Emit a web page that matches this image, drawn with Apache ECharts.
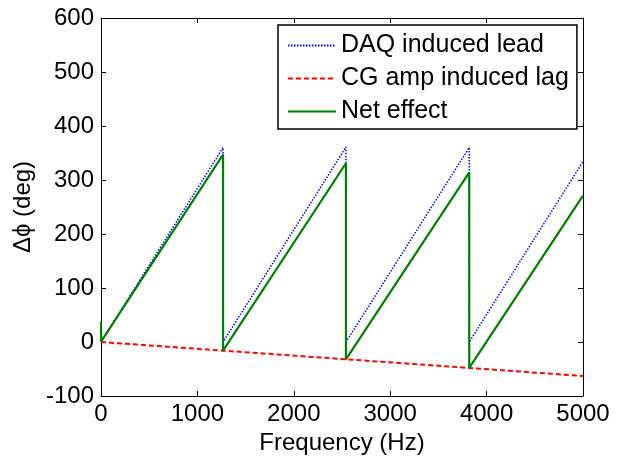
<!DOCTYPE html>
<html>
<head>
<meta charset="utf-8">
<script src="https://cdn.jsdelivr.net/npm/echarts@6/dist/echarts.min.js"></script>
<style>
html,body{margin:0;padding:0;background:#fff;}
#chart{width:626px;height:461px;}
</style>
</head>
<body>
<div id="chart"></div>
<script>
// Frequency (Hz) / phase (deg) vertices
var daqFreq  = [0, 1266, 1266, 2541, 2541, 3820, 3820, 5000];
var daqPhase = [0, 360, 0, 361, 0, 360, 0, 334];

var cgFreq  = [0, 1266, 2541, 3820, 5000];
var cgPhase = [0, -16, -32, -48, -63];

var netFreq  = [0, 2, 1266, 1266, 2541, 2541, 3820, 3820, 5000];
var netPhase = [38, 1, 347, -16, 331, -32, 314, -48, 271];

var xTicks = [0, 1000, 2000, 3000, 4000, 5000];
var yTicks = [-100, 0, 100, 200, 300, 400, 500, 600];

var seriesNames = ['DAQ induced lead', 'CG amp induced lag', 'Net effect'];

function pairs(xs, ys) { return xs.map(function (x, i) { return [x, ys[i]]; }); }

var FONT = "'Liberation Sans', Arial, sans-serif";
var chart = echarts.init(document.getElementById('chart'), null, {renderer: 'canvas'});

var axisCommon = {
  type: 'value',
  splitLine: {show: false},
  axisLine: {show: true, onZero: false, lineStyle: {color: '#000', width: 1}},
  axisTick: {show: true, inside: true, length: 5, lineStyle: {color: '#000', width: 1}}
};

chart.setOption({
  animation: false,
  backgroundColor: '#fff',
  textStyle: {fontFamily: FONT},
  grid: {left: 101, right: 43, top: 18, bottom: 65, containLabel: false},
  legend: {
    orient: 'vertical',
    left: 278,
    top: 25,
    data: seriesNames,
    backgroundColor: '#fff',
    borderColor: '#000',
    borderWidth: 1.5,
    borderRadius: 0,
    padding: [8, 8, 5, 9],
    itemGap: 8,
    itemWidth: 48,
    itemHeight: 14,
    itemStyle: {opacity: 0},
    textStyle: {fontSize: 25, color: '#000', fontFamily: FONT, padding: [0, 0, 0, 0]}
  },
  xAxis: [
    Object.assign({}, axisCommon, {
      position: 'bottom', min: xTicks[0], max: xTicks[xTicks.length - 1], interval: 1000,
      name: 'Frequency (Hz)', nameLocation: 'middle', nameGap: 33,
      nameTextStyle: {fontSize: 24, color: '#000', fontFamily: FONT},
      axisLabel: {show: true, fontSize: 24, color: '#000', margin: 6, fontFamily: FONT,
                  formatter: function (v) { return String(v); }}
    }),
    Object.assign({}, axisCommon, {
      position: 'top', min: xTicks[0], max: xTicks[xTicks.length - 1], interval: 1000,
      axisLabel: {show: false}
    })
  ],
  yAxis: [
    Object.assign({}, axisCommon, {
      position: 'left', min: yTicks[0], max: yTicks[yTicks.length - 1], interval: 100,
      name: 'Δϕ (deg)', nameLocation: 'middle', nameGap: 62, nameRotate: 90,
      nameTextStyle: {fontSize: 24, color: '#000', fontFamily: FONT},
      axisLabel: {show: true, fontSize: 24, color: '#000', margin: 7, fontFamily: FONT,
                  formatter: function (v) { return String(v); }}
    }),
    Object.assign({}, axisCommon, {
      position: 'right', min: yTicks[0], max: yTicks[yTicks.length - 1], interval: 100,
      axisLabel: {show: false}
    })
  ],
  series: [
    {
      name: seriesNames[0], type: 'line', xAxisIndex: 0, yAxisIndex: 0,
      data: pairs(daqFreq, daqPhase), symbol: 'none', showSymbol: false,
      itemStyle: {color: '#0000ff'},
      lineStyle: {color: '#0000ff', width: 1.5, type: [1.5, 1.5]}, z: 2
    },
    {
      name: seriesNames[1], type: 'line', xAxisIndex: 0, yAxisIndex: 0,
      data: pairs(cgFreq, cgPhase), symbol: 'none', showSymbol: false,
      itemStyle: {color: '#ff0000'},
      lineStyle: {color: '#ff0000', width: 2, type: [5, 3]}, z: 3
    },
    {
      name: seriesNames[2], type: 'line', xAxisIndex: 0, yAxisIndex: 0,
      data: pairs(netFreq, netPhase), symbol: 'none', showSymbol: false,
      itemStyle: {color: '#008000'},
      lineStyle: {color: '#008000', width: 2.2, type: 'solid'}, z: 4
    }
  ]
});
</script>
</body>
</html>
